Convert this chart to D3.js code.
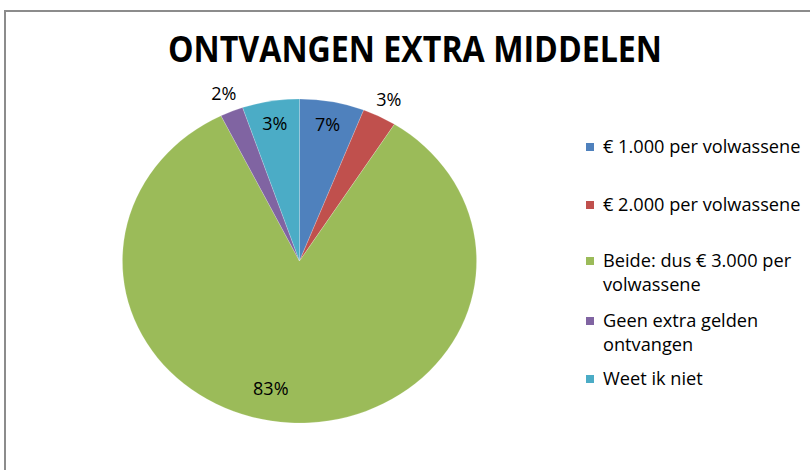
<!DOCTYPE html>
<html>
<head>
<meta charset="utf-8">
<script src="https://d3js.org/d3.v7.min.js"></script>
<style>
  body { margin: 0; background: #fff; }
  svg text { font-family: "Open Sans", "Liberation Sans", sans-serif; fill: #000; }
</style>
</head>
<body>
<svg id="chart" width="810" height="470"></svg>
<script>
const categories = ['€ 1.000 per volwassene', '€ 2.000 per volwassene', 'Beide: dus € 3.000 per volwassene', 'Geen extra gelden ontvangen', 'Weet ik niet'];
const values = [5.9, 3.1, 83.6, 2.1, 5.2];
const valueLabels = ['7%', '3%', '83%', '2%', '3%'];
const labelPlacement = ['in', 'out', 'in', 'out', 'in'];
const legendLines = [['€ 1.000 per volwassene'], ['€ 2.000 per volwassene'], ['Beide: dus € 3.000 per', 'volwassene'], ['Geen extra gelden', 'ontvangen'], ['Weet ik niet']];
const colors = ['#4F81BD', '#C0504D', '#9BBB59', '#8064A2', '#4BACC6'];

const svg = d3.select('#chart');

// kader
svg.append('rect')
    .attr('x', 5).attr('y', 11)
    .attr('width', 840).attr('height', 500)
    .attr('fill', 'none')
    .attr('stroke', '#8c8c8c')
    .attr('stroke-width', 2);

svg.append('text')
    .attr('x', 415).attr('y', 62)
    .attr('text-anchor', 'middle')
    .attr('font-size', 35)
    .attr('font-weight', 'bold')
    .attr('textLength', 494)
    .attr('lengthAdjust', 'spacingAndGlyphs')
    .text('ONTVANGEN EXTRA MIDDELEN');

const cx = 299.5, cy = 261, r = 162, sx = 1.093;

const pie = d3.pie().sort(null).value(d => d);
const arcs = pie(values);
const arc = d3.arc().innerRadius(0).outerRadius(r);

const g = svg.append('g').attr('transform', `translate(${cx},${cy}) scale(${sx},1)`);
g.selectAll('path')
    .data(arcs)
    .join('path')
    .attr('d', arc)
    .attr('fill', (d, i) => colors[i])
    .attr('stroke', 'rgba(255,255,255,0.35)')
    .attr('stroke-width', 0.5);

const inArc = d3.arc().innerRadius(139).outerRadius(139);
const outArc = d3.arc().innerRadius(181).outerRadius(181);

svg.selectAll('.pie-label')
    .data(arcs)
    .join('text')
    .attr('class', 'pie-label')
    .attr('font-size', 18)
    .attr('text-anchor', 'middle')
    .attr('dy', '0.35em')
    .attr('transform', (d, i) => {
        let a = labelPlacement[i] === 'in' ? inArc : outArc;
        let c = a.centroid(d);
        if (values[i] > 50) c = d3.arc().innerRadius(130).outerRadius(130)
            .centroid({startAngle: d.startAngle, endAngle: d.endAngle + 0.3});
        return `translate(${cx + c[0] * sx},${cy + c[1]})`;
    })
    .text((d, i) => valueLabels[i]);

// legenda
const legendTop = [147, 205, 261, 321, 379];
const legend = svg.selectAll('.legend-item')
    .data(categories)
    .join('g')
    .attr('class', 'legend-item')
    .attr('transform', (d, i) => `translate(586,${legendTop[i]})`);

legend.append('rect')
    .attr('x', 0).attr('y', -4)
    .attr('width', 8).attr('height', 8)
    .attr('fill', (d, i) => colors[i]);

legend.each(function (d, i) {
    const t = d3.select(this).append('text')
        .attr('x', 17)
        .attr('y', 6)
        .attr('font-size', 18.2);
    legendLines[i].forEach((line, j) => {
        t.append('tspan').attr('x', 17).attr('dy', j === 0 ? 0 : 24).text(line);
    });
});
</script>
</body>
</html>
